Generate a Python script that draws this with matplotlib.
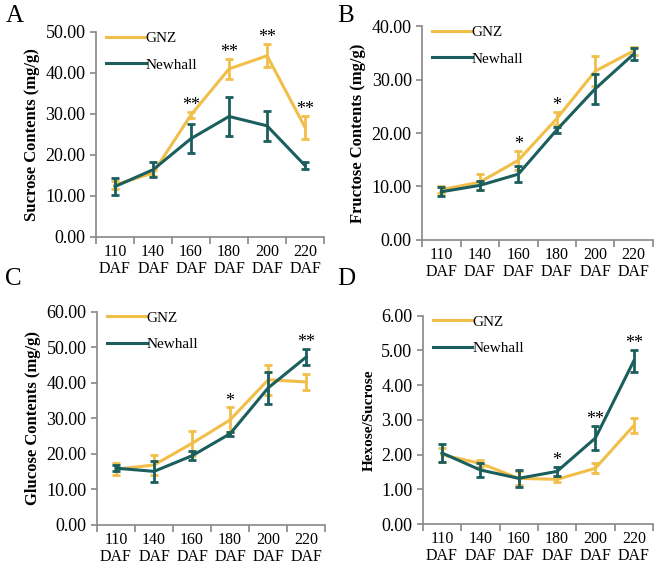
import matplotlib
matplotlib.use("Agg")
import matplotlib.pyplot as plt
from matplotlib.lines import Line2D
import numpy as np

plt.rcParams['font.family'] = ['Liberation Serif', 'DejaVu Serif']

cats = ["110\nDAF", "140\nDAF", "160\nDAF", "180\nDAF", "200\nDAF", "220\nDAF"]
GNZ_C = "#F2BE4A"
NEW_C = "#1B5E5E"

# A sucrose
suc_gnz = [12.7, 15.6, 29.8, 41.0, 44.2, 26.7]
suc_gnz_err = [1.0, 0.8, 0.7, 2.5, 2.8, 2.7]
suc_new = [12.3, 16.4, 24.0, 29.4, 27.1, 17.4]
suc_new_err = [2.0, 1.8, 3.5, 4.7, 3.6, 0.8]
suc_sig = ["", "", "**", "**", "**", "**"]

# B fructose
fru_gnz = [9.4, 10.8, 14.9, 22.7, 31.6, 35.4]
fru_gnz_err = [0.7, 1.5, 1.8, 1.2, 2.8, 0.7]
fru_new = [9.0, 10.2, 12.3, 20.6, 28.3, 34.8]
fru_new_err = [0.8, 0.9, 1.5, 0.6, 2.8, 1.2]
fru_sig = ["", "", "*", "*", "", ""]

# C glucose
glu_gnz = [15.7, 16.9, 23.0, 29.6, 40.9, 40.3]
glu_gnz_err = [1.7, 2.7, 3.5, 3.5, 4.3, 2.3]
glu_new = [16.0, 15.1, 19.5, 25.7, 38.6, 47.3]
glu_new_err = [0.8, 3.0, 1.3, 0.5, 4.6, 2.3]
glu_sig = ["", "", "", "*", "", "**"]

# D hexose/sucrose
hs_gnz = [2.0, 1.75, 1.32, 1.29, 1.61, 2.84]
hs_gnz_err = [0.2, 0.1, 0.2, 0.07, 0.15, 0.22]
hs_new = [2.05, 1.56, 1.32, 1.52, 2.48, 4.70]
hs_new_err = [0.27, 0.2, 0.24, 0.12, 0.35, 0.32]
hs_sig = ["", "", "", "*", "**", "**"]

fig = plt.figure(figsize=(6.69, 5.71), dpi=100)

panels = [
    ([0.1435, 0.585, 0.341, 0.359], "A", (0.008, 0.972), "Sucrose Contents (mg/g)", 50, 10,
     suc_gnz, suc_gnz_err, suc_new, suc_new_err, suc_sig),
    ([0.631, 0.580, 0.345, 0.374], "B", (0.504, 0.972), "Fructose Contents (mg/g)", 40, 10,
     fru_gnz, fru_gnz_err, fru_new, fru_new_err, fru_sig),
    ([0.145, 0.0806, 0.341, 0.373], "C", (0.008, 0.512), "Glucose Contents (mg/g)", 60, 10,
     glu_gnz, glu_gnz_err, glu_new, glu_new_err, glu_sig),
    ([0.632, 0.082, 0.344, 0.365], "D", (0.504, 0.512), "Hexose/Sucrose", 6, 1,
     hs_gnz, hs_gnz_err, hs_new, hs_new_err, hs_sig),
]

x = np.arange(len(cats))
for rect, letter, lpos, ylab, ymax, step, g, ge, n, ne, sig in panels:
    ax = fig.add_axes(rect)
    ax.errorbar(x, g, yerr=ge, color=GNZ_C, lw=2.2, capsize=3, capthick=2,
                elinewidth=2, zorder=2)
    ax.errorbar(x, n, yerr=ne, color=NEW_C, lw=2.2, capsize=3, capthick=2,
                elinewidth=2, zorder=3)
    for i, s in enumerate(sig):
        if s:
            top = max(g[i] + ge[i], n[i] + ne[i])
            ax.text(x[i], top - ymax * 0.01, s, ha="center", va="bottom",
                    fontsize=13)
    ax.set_xlim(-0.5, len(cats) - 0.5)
    ax.set_ylim(0, ymax)
    yt = np.arange(0, ymax + step / 2, step)
    ax.set_yticks(yt)
    ax.set_yticklabels(["%.2f" % v for v in yt])
    ax.set_xticks(x)
    ax.set_xticklabels(cats, linespacing=1.1)
    ax.set_xticks(np.arange(-0.5, len(cats)), minor=True)
    ax.tick_params(axis="x", which="major", length=0, labelsize=11.5, pad=5)
    ax.tick_params(axis="x", which="minor", length=5, color="#888888", width=1.2)
    ax.tick_params(axis="y", length=4, color="#888888", width=1.2, labelsize=13)
    for sp in ["top", "right"]:
        ax.spines[sp].set_visible(False)
    for sp in ["left", "bottom"]:
        ax.spines[sp].set_color("#888888")
        ax.spines[sp].set_linewidth(1.2)
    ax.set_ylabel(ylab, fontsize=12 if letter != "D" else 11, fontweight="bold",
                  labelpad=4)
    handles = [Line2D([], [], color=GNZ_C, lw=2.2), Line2D([], [], color=NEW_C, lw=2.2)]
    ax.legend(handles, ["GNZ", "Newhall"], loc="upper left", frameon=False,
              fontsize=11, handlelength=2.6, handletextpad=0.0, labelspacing=0.85,
              borderaxespad=0.1, bbox_to_anchor=(0.01, 1.04))
    fig.text(lpos[0], lpos[1], letter, fontsize=18, va="center", ha="left")

fig.savefig("out.png", dpi=100)
